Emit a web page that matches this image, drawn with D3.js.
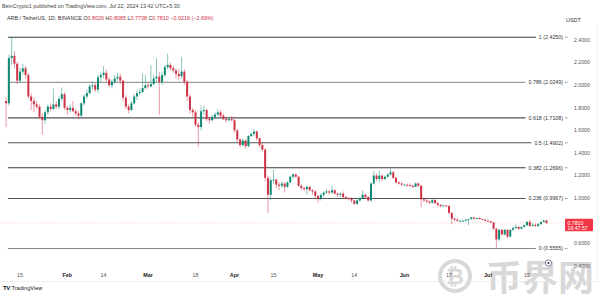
<!DOCTYPE html>
<html>
<head>
<meta charset="utf-8">
<script src="https://cdn.jsdelivr.net/npm/d3@7"></script>
<style>
body{margin:0;background:#fff}
svg{display:block;font-family:"Liberation Sans",Arial,sans-serif}
</style>
</head>
<body>
<svg id="chart" width="600" height="294"></svg>
<script>
// ARB/USDT daily candles, 2024-01-10 .. 2024-07-22 (open = previous close)
var firstDay = "2024-01-10"
var firstOpen = 1.86

var closes = [
  // Jan 10-31
  1.84,2.24,2.26,2.19,2.04,2.12,2.15,2.09,1.90,1.86,1.83,1.81,1.72,1.69,1.76,1.81,1.79,1.83,1.81,1.88,1.92,1.80,
  // Feb
  1.78,1.80,1.77,1.75,1.73,1.84,1.90,1.93,1.99,2.00,1.96,2.07,2.09,2.11,2.05,2.00,2.03,2.06,2.075,2.04,1.89,1.81,1.78,1.84,1.90,1.93,1.94,1.975,2.00,
  // Mar
  1.99,2.01,2.06,2.075,2.03,2.09,2.16,2.18,2.15,2.13,2.10,2.08,2.12,2.03,1.90,1.78,1.76,1.65,1.63,1.77,1.78,1.70,1.69,1.72,1.74,1.76,1.73,1.70,1.69,1.70,1.69,
  // Apr
  1.60,1.52,1.47,1.51,1.46,1.55,1.57,1.59,1.53,1.47,1.43,1.18,1.03,1.16,1.165,1.12,1.11,1.13,1.10,1.14,1.19,1.21,1.19,1.11,1.09,1.08,1.10,1.07,1.06,1.02,
  // May
  1.00,1.03,1.05,1.06,1.05,1.07,1.04,1.03,1.04,1.01,1.00,0.995,0.98,0.95,0.98,1.00,1.03,1.01,0.98,1.13,1.20,1.17,1.20,1.17,1.19,1.21,1.23,1.18,1.14,1.13,1.12,
  // Jun
  1.12,1.115,1.11,1.10,1.13,1.11,0.99,0.98,0.97,0.96,0.985,0.955,0.94,0.93,0.935,0.93,0.87,0.82,0.81,0.80,0.80,0.80,0.81,0.815,0.83,0.82,0.825,0.815,0.81,0.80,
  // Jul 1-22
  0.795,0.785,0.73,0.635,0.72,0.68,0.72,0.66,0.72,0.735,0.745,0.73,0.745,0.76,0.79,0.755,0.765,0.755,0.77,0.79,0.8026,0.781
]
var highs = [
  1.90,2.27,2.425,2.30,2.21,2.15,2.19,2.17,2.11,1.93,1.89,1.86,1.83,1.75,1.78,1.83,1.84,1.97,1.86,1.90,1.98,1.94,
  1.82,1.83,1.86,1.79,1.77,1.85,1.92,1.96,2.01,2.03,2.02,2.09,2.12,2.17,2.14,2.07,2.05,2.09,2.11,2.10,2.05,1.91,1.83,1.86,1.92,1.96,1.97,2.10,2.09,
  2.03,2.18,2.09,2.24,2.12,2.12,2.18,2.28,2.20,2.17,2.15,2.14,2.25,2.14,2.05,1.92,1.80,1.78,1.67,1.82,1.82,1.79,1.72,1.74,1.76,1.79,1.78,1.75,1.72,1.72,1.73,
  1.70,1.61,1.53,1.53,1.52,1.56,1.58,1.61,1.60,1.54,1.49,1.44,1.20,1.18,1.25,1.17,1.14,1.15,1.14,1.15,1.20,1.22,1.22,1.20,1.12,1.10,1.11,1.11,1.08,1.07,
  1.03,1.04,1.06,1.08,1.07,1.11,1.08,1.05,1.05,1.06,1.02,1.01,1.01,0.985,0.99,1.01,1.07,1.04,1.02,1.14,1.24,1.22,1.24,1.21,1.20,1.22,1.265,1.24,1.19,1.15,1.14,
  1.13,1.13,1.13,1.12,1.14,1.14,1.12,1.00,0.99,0.98,0.99,0.99,0.97,0.95,0.945,0.94,0.94,0.875,0.83,0.82,0.81,0.81,0.815,0.82,0.835,0.835,0.83,0.83,0.82,0.815,
  0.81,0.80,0.79,0.735,0.73,0.725,0.73,0.725,0.725,0.745,0.77,0.755,0.75,0.77,0.80,0.81,0.78,0.775,0.78,0.795,0.81,0.8085
]
var lows = [
  1.63,1.82,2.18,2.15,2.01,2.02,2.09,2.06,1.88,1.78,1.76,1.79,1.70,1.56,1.66,1.74,1.77,1.78,1.79,1.79,1.86,1.78,
  1.74,1.76,1.76,1.73,1.70,1.72,1.82,1.88,1.92,1.96,1.94,1.93,2.03,2.06,2.03,1.98,1.97,2.01,2.04,2.01,1.86,1.79,1.75,1.77,1.83,1.87,1.91,1.93,1.96,
  1.97,1.98,2.00,2.03,1.74,2.00,2.07,2.14,2.13,2.11,2.06,2.05,2.06,2.00,1.86,1.75,1.72,1.63,1.456,1.60,1.74,1.68,1.66,1.68,1.70,1.73,1.71,1.69,1.67,1.68,1.68,
  1.58,1.50,1.45,1.46,1.44,1.45,1.54,1.55,1.51,1.45,1.41,1.15,0.87,0.98,1.13,1.09,1.07,1.09,1.05,1.09,1.13,1.17,1.18,1.10,1.07,1.06,1.03,1.06,1.03,0.99,
  0.96,0.98,1.01,1.04,1.03,1.04,1.03,1.01,1.01,1.00,0.99,0.98,0.96,0.94,0.94,0.97,0.99,1.00,0.97,0.97,1.12,1.15,1.14,1.15,1.16,1.18,1.20,1.17,1.13,1.12,1.11,
  1.11,1.10,1.10,1.09,1.10,1.10,0.92,0.97,0.96,0.95,0.95,0.95,0.92,0.92,0.925,0.92,0.86,0.77,0.80,0.79,0.79,0.795,0.795,0.76,0.81,0.81,0.81,0.81,0.805,0.795,
  0.79,0.78,0.72,0.5555,0.62,0.67,0.67,0.645,0.655,0.71,0.73,0.72,0.725,0.74,0.755,0.745,0.75,0.745,0.745,0.765,0.785,0.7738
]

// fibonacci retracement drawn from the Jan high
var fibStart = "2024-01-11"
var fibRatios = ["1", "0.786", "0.618", "0.5", "0.382", "0.236", "0"]
var fibPrices = [2.4250, 2.0249, 1.7108, 1.4902, 1.2696, 0.9967, 0.5555]
var fibColors = ["#3a3a3a", "#9a9a9a", "#555", "#555", "#3a3a3a", "#555", "#888"]

var priceTicks = [0.4, 0.6, 0.8, 1.0, 1.2, 1.4, 1.6, 1.8, 2.0, 2.2, 2.4]
var timeTicks = ["2024-01-15","2024-02-01","2024-02-14","2024-03-01","2024-03-18","2024-04-01","2024-04-15",
                 "2024-05-01","2024-05-14","2024-06-01","2024-06-17","2024-07-01","2024-07-15"]
var timeLabels = ["15","Feb","14","Mar","18","Apr","15","May","14","Jun","17","Jul","15"]

var lastPrice = 0.7810
var countdown = "16:47:57"

var upColor = "#0f8a74", downColor = "#cf3347"

var parse = d3.utcParse("%Y-%m-%d")
var day0 = parse(firstDay)
var days = d3.utcDay.range(day0, d3.utcDay.offset(day0, closes.length))
var candles = closes.map(function(c, i){
    return {date: days[i], o: i ? closes[i-1] : firstOpen, h: highs[i], l: lows[i], c: c}
})

var x = d3.scaleUtc().domain([parse("2024-01-15"), parse("2024-07-15")]).range([20, 527])
var y = d3.scaleLinear().domain([0.4, 2.4]).range([266, 40])

var svg = d3.select("#chart")

// watermark (under everything else)
var wm = svg.append("g").attr("opacity", 0.28)
wm.append("circle").attr("cx", 455).attr("cy", 276).attr("r", 15)
    .attr("fill", "none").attr("stroke", "#777").attr("stroke-width", 4)
wm.append("text").attr("x", 455).attr("y", 284).attr("text-anchor", "middle")
    .attr("font-size", 22).attr("font-weight", "bold").attr("fill", "#777").text("\u20bf")
wm.append("text").attr("x", 486).attr("y", 291)
    .attr("font-family", "'Noto Sans CJK SC'").attr("font-size", 36).attr("font-weight", "bold")
    .attr("fill", "#777").text("币界网")

// header
svg.append("text").attr("x", 2).attr("y", 8).attr("font-size", 5.4).attr("fill", "#444")
    .text("BeinCrypto1 published on TradingView.com, Jul 22, 2024 13:42 UTC+5:30")
var hdr = svg.append("text").attr("x", 7).attr("y", 19.5).attr("font-size", 5.4).attr("fill", "#333")
var parts = [["ARB / TetherUS, 1D, BINANCE  ", "#333"], ["O", "#333"], ["0.8026", downColor], [" H", "#333"], ["0.8085", downColor],
             [" L", "#333"], ["0.7738", downColor], [" C", "#333"], ["0.7810", downColor], [" \u22120.0216 (\u22122.69%)", downColor]]
parts.forEach(function(p){ hdr.append("tspan").attr("fill", p[1]).text(p[0]) })

svg.append("text").attr("x", 566).attr("y", 21.5).attr("font-size", 5.4).attr("fill", "#333").text("USDT")

// price line (dotted) across chart
svg.append("line")
    .attr("x1", 0).attr("x2", 565)
    .attr("y1", y(lastPrice)).attr("y2", y(lastPrice))
    .attr("stroke", "#f23645").attr("stroke-opacity", 0.45)
    .attr("stroke-width", 0.6).attr("stroke-dasharray", "1,1.5")

// fib levels
var fib = svg.append("g")
fibPrices.forEach(function(p, i){
    var lbl = fib.append("text")
        .attr("x", 563).attr("y", y(p) + 1.8)
        .attr("text-anchor", "end").attr("font-size", 5.3).attr("fill", "#333")
        .text(fibRatios[i] + " (" + d3.format(".4f")(p) + ")")
    var w = lbl.node().getComputedTextLength()
    fib.append("line")
        .attr("x1", x(parse(fibStart)) - 1).attr("x2", 563 - w - 3)
        .attr("y1", y(p)).attr("y2", y(p))
        .attr("stroke", fibColors[i]).attr("stroke-width", 1.1)
    fib.append("line")
        .attr("x1", 565).attr("x2", 567.5)
        .attr("y1", y(p)).attr("y2", y(p))
        .attr("stroke", "#555").attr("stroke-width", 0.6)
})

// candles
var g = svg.append("g")
g.selectAll("line.wick")
    .data(candles)
    .join("line")
    .attr("class", "wick")
    .attr("x1", d => x(d.date)).attr("x2", d => x(d.date))
    .attr("y1", d => y(Math.max(d.h, d.o, d.c))).attr("y2", d => y(Math.min(d.l, d.o, d.c)))
    .attr("stroke", d => d.c >= d.o ? upColor : downColor)
    .attr("stroke-width", 0.7)
    .attr("stroke-opacity", 0.7)
g.selectAll("rect")
    .data(candles)
    .join("rect")
    .attr("x", d => x(d.date) - 1)
    .attr("width", 2)
    .attr("y", d => y(Math.max(d.o, d.c)))
    .attr("height", d => Math.max(0.8, Math.abs(y(d.o) - y(d.c))))
    .attr("fill", d => d.c >= d.o ? upColor : downColor)

// price axis
svg.append("g").selectAll("text")
    .data(priceTicks)
    .join("text")
    .attr("x", 574).attr("y", d => y(d) + 1.8)
    .attr("font-size", 5.2).attr("fill", "#555")
    .text(d => d3.format(".4f")(d))

// last price badge
svg.append("rect")
    .attr("x", 565).attr("y", y(lastPrice) - 4.2)
    .attr("width", 28).attr("height", 12.6).attr("rx", 1)
    .attr("fill", "#f23645")
svg.append("text").attr("x", 567.5).attr("y", y(lastPrice) + 1.6)
    .attr("font-size", 5.2).attr("fill", "#fff").text(d3.format(".4f")(lastPrice))
svg.append("text").attr("x", 567.5).attr("y", y(lastPrice) + 7.2)
    .attr("font-size", 5.2).attr("fill", "#fff").text(countdown)

// time axis
svg.append("g").selectAll("text")
    .data(timeTicks)
    .join("text")
    .attr("x", d => x(parse(d))).attr("y", 276.5)
    .attr("text-anchor", "middle").attr("font-size", 5.4)
    .attr("font-weight", (d, i) => isNaN(+timeLabels[i]) ? "bold" : "normal")
    .attr("fill", (d, i) => isNaN(+timeLabels[i]) ? "#222" : "#555")
    .text((d, i) => timeLabels[i])

svg.append("line").attr("x1", 0).attr("x2", 600).attr("y1", 281.5).attr("y2", 281.5)
    .attr("stroke", "#e6e6e6").attr("stroke-width", 0.6)
svg.append("line").attr("x1", 597.5).attr("x2", 597.5).attr("y1", 24).attr("y2", 281)
    .attr("stroke", "#eeeeee").attr("stroke-width", 0.6)

// tradingview logo
svg.append("text").attr("x", 3).attr("y", 290).attr("font-size", 6.2).attr("font-weight", "bold")
    .attr("letter-spacing", -0.6).attr("fill", "#131722").text("TV")
svg.append("text").attr("x", 11.5).attr("y", 290).attr("font-size", 5.6).attr("fill", "#131722").text("TradingView")

// event marker
svg.append("circle").attr("cx", 548.5).attr("cy", 263).attr("r", 3.2)
    .attr("fill", "#fff").attr("stroke", "#6b5a8a").attr("stroke-width", 0.8)
svg.append("circle").attr("cx", 548.5).attr("cy", 263).attr("r", 1.1).attr("fill", "#333")
</script>
</body>
</html>
